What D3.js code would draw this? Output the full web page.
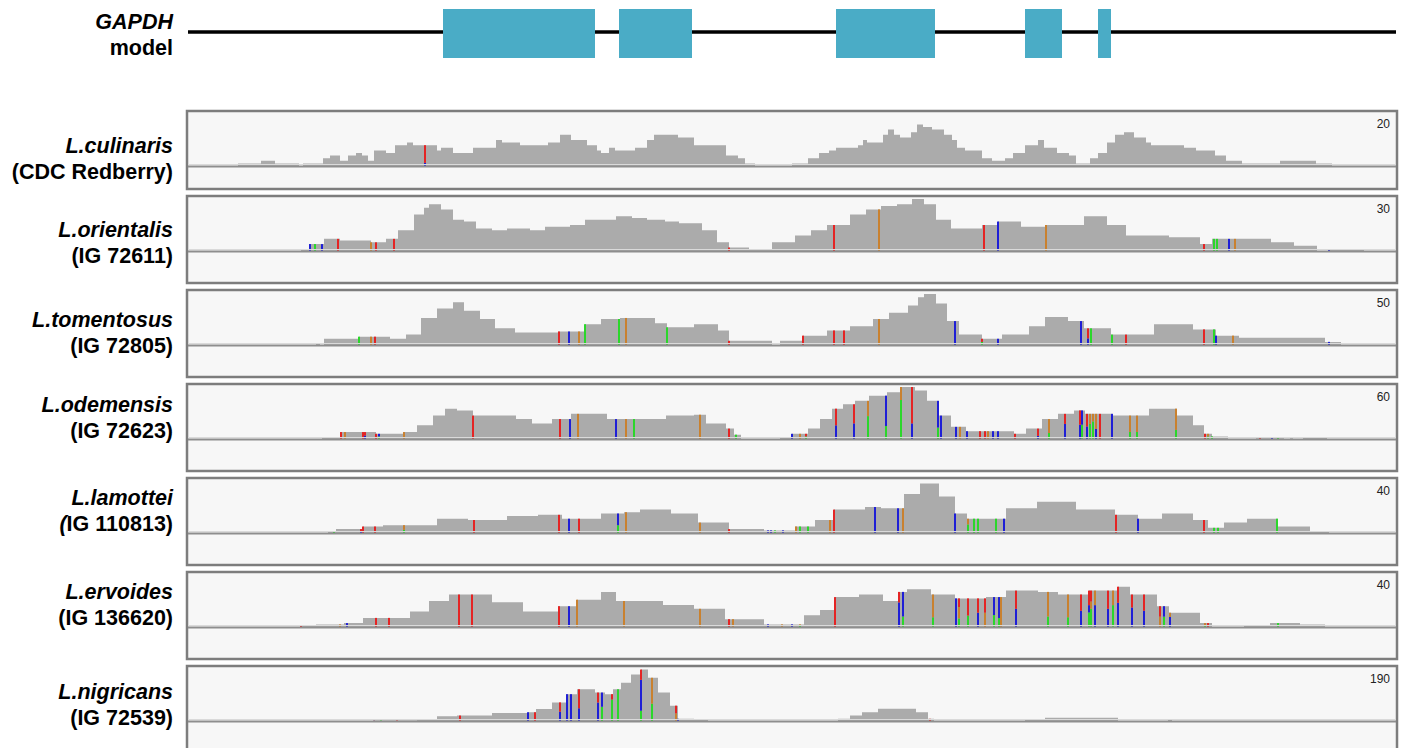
<!DOCTYPE html>
<html>
<head>
<meta charset="utf-8">
<script src="https://cdn.jsdelivr.net/npm/d3@7"></script>
<style>
  html, body { margin: 0; background: #fff; }
  svg { display: block; }
</style>
</head>
<body>
<svg id="fig" width="1402" height="748"></svg>
<script>
// ---- GAPDH locus (positions along the locus, 0 .. locusLength) ----
const locusLength = 1208;
const exons = [[255, 407], [431, 504], [648, 747], [837, 874], [910, 923]];

// ---- samples ----
const species = ["L.culinaris", "L.orientalis", "L.tomentosus", "L.odemensis", "L.lamottei", "L.ervoides", "L.nigricans"];
const accessions = ["(CDC Redberry)", "(IG 72611)", "(IG 72805)", "(IG 72623)", "(IG 110813)", "(IG 136620)", "(IG 72539)"];
const italicParen = [false, false, false, false, true, false, false];
const scaleMax = [20, 30, 50, 60, 40, 40, 190];

// ---- read coverage: [start, depth] steps, each runs until the next start ----
const culinarisCov = [[50,1],[73,2],[87,1],[111,0],[115,1],[135,3],[142,4],[152,2],[160,4],[168,5],[174,4],[180,2],[186,6],[198,5],[207,8],[219,9],[225,8],[249,6],[253,7],[265,5],[285,7],[308,10],[314,9],[332,8],[360,9],[372,12],[383,10],[399,8],[409,6],[413,5],[421,7],[427,6],[447,7],[459,10],[466,12],[490,11],[506,8],[538,4],[550,3],[557,1],[567,0],[604,1],[620,3],[631,5],[641,6],[648,7],[670,8],[675,10],[679,9],[695,12],[700,14],[706,12],[712,11],[723,13],[729,16],[735,15],[744,14],[756,12],[764,10],[769,7],[777,6],[794,3],[804,2],[817,3],[825,5],[837,8],[850,10],[856,7],[869,5],[881,4],[888,1],[902,3],[910,5],[919,9],[927,12],[936,13],[946,11],[958,9],[963,8],[996,7],[1008,6],[1027,4],[1038,2],[1054,1],[1092,2],[1128,1],[1144,0]];
const orientalisCov = [[113,1],[121,4],[136,7],[152,6],[183,5],[198,7],[210,12],[226,21],[236,25],[241,27],[253,24],[265,18],[276,17],[288,13],[304,12],[319,13],[342,12],[357,14],[382,15],[397,18],[428,20],[444,19],[459,18],[477,17],[491,16],[514,12],[529,5],[541,2],[561,1],[584,5],[607,9],[623,12],[639,15],[662,21],[678,24],[693,26],[709,27],[724,30],[736,27],[748,18],[763,13],[794,15],[810,17],[833,14],[857,15],[896,20],[919,15],[938,9],[981,8],[1012,4],[1024,7],[1083,5],[1106,3],[1129,0],[1141,1],[1176,0]];
const tomentosusCov = [[128,1],[132,0],[136,6],[171,8],[202,6],[218,10],[233,26],[249,35],[265,41],[276,33],[292,25],[307,16],[327,12],[370,13],[397,20],[413,25],[432,26],[467,21],[479,17],[506,20],[530,14],[541,4],[584,0],[592,4],[615,9],[639,14],[662,18],[685,25],[701,31],[720,38],[730,46],[736,49],[748,40],[759,23],[771,10],[794,6],[814,10],[841,18],[857,27],[880,23],[896,16],[923,10],[966,20],[1005,15],[1028,9],[1051,7],[1137,3],[1153,0]];
const odemensisCov = [[134,2],[152,8],[188,6],[215,8],[229,16],[245,27],[257,35],[269,33],[285,27],[328,23],[344,18],[364,23],[383,29],[419,23],[478,27],[506,28],[518,18],[538,12],[546,5],[553,0],[592,2],[604,6],[620,12],[632,23],[644,35],[655,40],[667,44],[681,50],[699,54],[713,60],[727,56],[739,44],[751,27],[763,14],[778,9],[826,6],[838,12],[854,23],[870,29],[886,33],[897,29],[925,27],[961,35],[989,27],[1005,16],[1016,6],[1024,3],[1040,0],[1068,1],[1096,0],[1102,1],[1105,0],[1115,2],[1139,0]];
const lamotteiCov = [[140,1],[148,3],[175,5],[195,6],[249,11],[280,10],[319,13],[350,14],[374,11],[413,15],[436,16],[452,18],[483,15],[510,8],[541,3],[576,2],[607,5],[627,10],[646,18],[677,20],[693,19],[716,30],[732,38],[751,28],[767,15],[779,11],[818,19],[849,24],[888,18],[927,14],[950,11],[974,15],[1005,10],[1020,4],[1036,8],[1059,11],[1090,5],[1122,1],[1141,0]];
const ervoidesCov = [[113,1],[128,2],[156,3],[175,7],[222,12],[241,20],[261,25],[304,19],[335,12],[370,16],[389,21],[413,27],[428,20],[475,17],[506,14],[537,6],[576,2],[616,9],[632,13],[647,23],[671,25],[695,20],[711,27],[719,29],[743,25],[767,22],[798,23],[818,28],[850,27],[870,25],[901,28],[930,31],[942,25],[969,16],[981,11],[1012,3],[1024,0],[1056,1],[1082,3],[1112,2],[1137,0]];
const nigricansCov = [[186,2],[229,5],[249,17],[269,20],[304,29],[340,32],[348,44],[364,68],[378,98],[389,116],[407,104],[417,98],[425,116],[433,140],[443,170],[453,188],[460,158],[470,104],[482,56],[490,8],[506,5],[520,0],[650,8],[662,20],[674,32],[690,45],[728,32],[740,8],[746,0],[837,6],[857,12],[930,0],[980,4],[984,0]];

// ---- mismatch columns: [position, A, C, G, T] allele fractions ----
const culinarisVar = [[237,0,0.15,0,0.85]];
const orientalisVar = [[122,0,1,0,0],[127,1,0,0,0],[134,0,1,0,0],[150,0,0,0,1],[183,0,0,1,0],[188,0,0,0,1],[206,0,0,0,1],[541,0,0,0,1],[646,0,0,0,1],[691,0,0,1,0],[796,0,0,0,1],[810,0,1,0,0],[858,0,0,1,0],[1016,0,0,0,1],[1026,1,0,0,0],[1029,1,0,0,0],[1041,0,1,0,0],[1047,0,0,1,0],[1141,0,1,0,0]];
const tomentosusVar = [[171,1,0,0,0],[183,0,0,1,0],[187,0,0,0,1],[371,0,0,0,1],[381,0,1,0,0],[391,0,0,1,0],[397,1,0,0,0],[431,1,0,0,0],[438,0,0,1,0],[479,1,0,0,0],[541,0,0,0,1],[615,0,0,0,1],[646,0,0,0,1],[656,0,0,0,1],[691,0,0,1,0],[767,0,1,0,0],[794,0.5,0,0,0.5],[810,0,1,0,0],[893,0,1,0,0],[900,0,0.4,0,0.6],[903,1,0,0,0],[924,1,0,0,0],[938,0,0,0,1],[1016,0,0,0,1],[1026,1,0,0,0],[1028,0,1,0,0],[1045,0,0,1,0],[1141,0,1,0,0]];
const odemensisVar = [[153,0,0,0,1],[157,0,0,1,0],[175,0,0,0,1],[177,0,0.5,0,0.5],[188,0,0,0,1],[191,0.5,0.5,0,0],[216,0,0,1,0],[285,0,0,0,1],[372,0,0,0,1],[382,0,1,0,0],[390,0,0,1,0],[428,0,1,0,0],[438,0,0,1,0],[446,1,0,0,0],[512,0,0,1,0],[541,0,0,0,1],[548,1,0,0,0],[604,0,1,0,0],[612,0,0,1,0],[618,0.5,0,0,0.5],[648,0,0.45,0,0.55],[666,0,0.45,0,0.55],[680,0.6,0,0.4,0],[698,0.3,0.7,0,0],[713,0.75,0,0.25,0],[724,0,0.3,0,0.7],[750,0.3,0.7,0,0],[753,0,1,0,0],[768,0,1,0,0],[772,0,0,1,0],[779,0,1,0,0],[792,0,0,0,1],[797,0,0,0,1],[800,0,0,1,0],[805,0,1,0,0],[810,0,1,0,0],[827,0,0,0,1],[850,0,0.3,0,0.7],[861,0.3,0,0.7,0],[877,0,0.6,0,0.4],[892,0,0.5,0,0.5],[894,0.5,0.5,0,0],[899,0,0.5,0,0.5],[902,0.6,0,0.4,0],[905,0.7,0,0.3,0],[908,0,0.4,0.6,0],[912,0,0,0,1],[924,0,1,0,0],[942,0.3,0,0.7,0],[949,0.3,0,0.7,0],[988,0.3,0,0.7,0],[1017,0,0,0,1],[1020,0.5,0,0.5,0],[1024,1,0,0,0],[1040,0,1,0,0],[1072,0,0,0,1],[1084,0,1,0,0],[1090,1,0,0,0]];
const lamotteiVar = [[146,1,0,0,0],[173,0,0.4,0,0.6],[175,0,0,0,1],[187,0,0,0,1],[216,0.4,0,0.6,0],[286,0,0,0,1],[371,0,0,0,1],[381,0,1,0,0],[391,0,0,0,1],[430,0.4,0.6,0,0],[438,0,0,1,0],[512,0,0,1,0],[541,0,0,0,1],[580,0,1,0,0],[583,0,1,0,0],[587,1,0,0,0],[595,0,1,0,0],[608,0,0,1,0],[612,1,0,0,0],[620,1,0,0,0],[642,0,0,1,0],[646,0,0,0,1],[687,0,1,0,0],[710,0,1,0,0],[715,0,0,1,0],[767,0,1,0,0],[780,0.6,0,0.4,0],[786,1,0,0,0],[790,1,0,0,0],[808,1,0,0,0],[816,0,1,0,0],[928,0,0,0,1],[950,0,1,0,0],[1016,0,0,0,1],[1026,1,0,0,0],[1030,1,0,0,0],[1089,1,0,0,0],[1141,0,1,0,0]];
const ervoidesVar = [[113,0,0,0,1],[152,0,0,1,0],[159,0,1,0,0],[188,0,0,0,1],[201,0,0,0,1],[271,0,0,0,1],[284,0,0,0,1],[371,0,0,0,1],[381,0,1,0,0],[389,0,0,1,0],[436,0,0,1,0],[512,0,0,1,0],[541,0,0,0,1],[545,0,0,1,0],[580,0,1,0,0],[594,0,0,1,0],[604,0,1,0,0],[612,0.5,0,0.5,0],[647,0,0,0,1],[711,0,0.7,0,0.3],[715,0.3,0.7,0,0],[745,0.3,0,0.7,0],[768,0,1,0,0],[771,0.3,0,0.4,0.3],[780,0.4,0,0,0.6],[790,0,0.5,0,0.5],[797,0,0,0.5,0.5],[806,0.4,0.6,0,0],[811,0.3,0.7,0,0],[813,0,0,1,0],[828,0,0.5,0,0.5],[860,0.3,0,0.7,0],[880,0.3,0,0.7,0],[893,0,0.5,0,0.5],[901,0.4,0.2,0,0.4],[903,0.5,0,0.2,0.3],[907,0,0.6,0.4,0],[920,0,0.5,0,0.5],[925,0.6,0,0.4,0],[930,0,0.6,0,0.4],[944,0,0.6,0,0.4],[956,0,0.5,0,0.5],[972,0,0,0.5,0.5],[976,0.5,0.5,0,0],[982,0,0.7,0.3,0],[1017,0.3,0,0.7,0],[1020,0,0,0,1],[1025,1,0,0,0],[1090,1,0,0,0]];
const nigricansVar = [[186,0.2,0.4,0,0.4],[193,1,0,0,0],[209,0,0,0,1],[272,0,0,0,1],[340,0,1,0,0],[347,0,0,0,1],[372,0,0.5,0,0.5],[379,0,1,0,0],[383,0,1,0,0],[391,0,0.4,0,0.6],[410,0,0.65,0,0.35],[414,0.5,0.5,0,0],[424,0.8,0,0,0.2],[430,1,0,0,0],[453,0.2,0.6,0,0.2],[464,0.4,0,0.6,0],[488,0,0,0.5,0.5],[490,0,1,0,0],[742,0,0,0,1]];

const coverage = [culinarisCov, orientalisCov, tomentosusCov, odemensisCov, lamotteiCov, ervoidesCov, nigricansCov];
const variants = [culinarisVar, orientalisVar, tomentosusVar, odemensisVar, lamotteiVar, ervoidesVar, nigricansVar];
const baseColors = ["#2bd72b", "#1f1fd6", "#c9812f", "#e42424"]; // A, C, G, T

// ---- layout ----
const svg = d3.select("#fig");
const font = "'Liberation Sans', Arial, Helvetica, sans-serif";
const x = d3.scaleLinear().domain([0, locusLength]).range([188, 1396]);
const labelX = 173;
const labelSize = 21.5;
// baseline of the species name for each row; the accession sits one line below
const nameBaselines = [153, 237, 327, 412, 505, 599, 699];
const lineStep = 26;

// gene model
const gene = svg.append("g");
gene.append("line")
  .attr("x1", x(0)).attr("x2", x(locusLength))
  .attr("y1", 32).attr("y2", 32)
  .attr("stroke", "#000").attr("stroke-width", 3.5);
gene.selectAll("rect").data(exons).join("rect")
  .attr("x", d => x(d[0])).attr("width", d => x(d[1]) - x(d[0]))
  .attr("y", 9).attr("height", 49)
  .attr("fill", "#4aacc6");
const gl = gene.append("text").attr("x", labelX).attr("text-anchor", "end")
  .attr("font-family", font).attr("font-weight", "bold").attr("font-size", labelSize).attr("fill", "#000");
gl.append("tspan").attr("x", labelX).attr("y", 29).attr("font-style", "italic").text("GAPDH");
gl.append("tspan").attr("x", labelX).attr("y", 55).text("model");

// coverage tracks
const firstTop = 111, gap = 7, panelLeft = 187, panelRight = 1397;
let trackTop = firstTop;
species.forEach((name, i) => {
  const h = i === 0 ? 78 : 87;
  const tt = trackTop;
  const base = tt + 55;
  const y = d3.scaleLinear().domain([0, scaleMax[i]]).range([base, tt + 3]);
  const g = svg.append("g");

  g.append("rect")
    .attr("x", panelLeft).attr("y", tt)
    .attr("width", panelRight - panelLeft).attr("height", h)
    .attr("fill", "#f7f7f7").attr("stroke", "#7d7d7d").attr("stroke-width", 2.5);

  const steps = coverage[i];
  const area = d3.area()
    .x(d => x(d[0])).y0(base).y1(d => y(d[1]))
    .curve(d3.curveStepAfter);
  g.append("path").datum(steps).attr("d", area).attr("fill", "#ababab");

  const depthAt = p => {
    let v = 0;
    for (const s of steps) { if (s[0] <= p) v = s[1]; else break; }
    return v;
  };

  variants[i].forEach(v => {
    const depth = depthAt(v[0]);
    let acc = 0;
    for (let b = 0; b < 4; b++) {
      const f = v[b + 1];
      if (f <= 0) continue;
      g.append("rect")
        .attr("x", x(v[0]) - 1).attr("width", 2)
        .attr("y", y(depth * (acc + f))).attr("height", y(depth * acc) - y(depth * (acc + f)))
        .attr("fill", baseColors[b]);
      acc += f;
    }
  });

  g.append("line").attr("x1", panelLeft + 1).attr("x2", panelRight - 1)
    .attr("y1", base - 1.5).attr("y2", base - 1.5)
    .attr("stroke", "#dadada").attr("stroke-width", 1);
  g.append("line").attr("x1", panelLeft + 1).attr("x2", panelRight - 1)
    .attr("y1", base + 0.5).attr("y2", base + 0.5)
    .attr("stroke", "#8e8e8e").attr("stroke-width", 2);

  g.append("text").attr("x", 1390).attr("y", tt + 17)
    .attr("text-anchor", "end").attr("font-family", font).attr("font-size", 12)
    .attr("fill", "#222").text(scaleMax[i]);

  const t = svg.append("text").attr("text-anchor", "end")
    .attr("font-family", font).attr("font-weight", "bold").attr("font-size", labelSize).attr("fill", "#000");
  t.append("tspan").attr("x", labelX).attr("y", nameBaselines[i]).attr("font-style", "italic").text(name);
  const accLine = t.append("tspan").attr("x", labelX).attr("y", nameBaselines[i] + lineStep);
  if (italicParen[i]) {
    accLine.append("tspan").attr("font-style", "italic").text(accessions[i].slice(0, 1));
    accLine.append("tspan").text(accessions[i].slice(1));
  } else {
    accLine.text(accessions[i]);
  }

  trackTop += h + gap;
});
</script>
</body>
</html>
